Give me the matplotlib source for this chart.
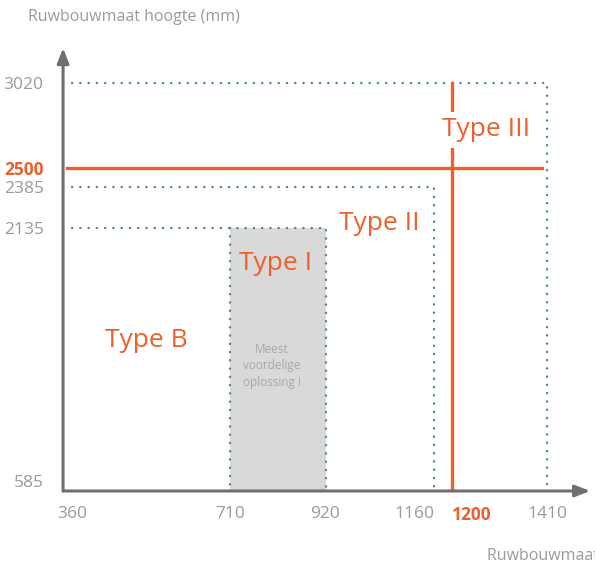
import matplotlib.pyplot as plt

# tick values on both axes
x_ticks = [360, 710, 920, 1160, 1200, 1410]
y_ticks = [585, 2135, 2385, 2500, 3020]

# type boundaries (width, height) drawn as dotted boxes from the origin
box_w = [920, 1160, 1410]
box_h = [2135, 2385, 3020]

# the recommended range (Type I)
bar_left, bar_right = 710, 920
bar_top = 2135

# the orange limit lines
limit_w = 1200
limit_h = 2500

labels = ["Type B", "Type I", "Type II", "Type III"]
label_x = [524, 809, 1039, 1274]
label_y = [1442, 1913, 2158, 2733]

orange = '#ee5f2b'
grey = '#9a9a9a'
blue = '#4b84a6'
axis_col = '#6f6f6f'

plt.rcParams['font.family'] = ['Open Sans', 'DejaVu Sans']

fig = plt.figure(figsize=(5.95, 5.68), dpi=100)
ax = fig.add_axes([0.106, 0.1356, 0.886, 0.780])
x0, y0 = 340, 524
ax.set_xlim(x0, 1505)
ax.set_ylim(y0, 3234)

for s in ax.spines.values():
    s.set_visible(False)

# axis arrows
ax.annotate('', xy=(1, 0), xytext=(0, 0), xycoords='axes fraction',
            arrowprops=dict(arrowstyle='-|>,head_length=0.9,head_width=0.35',
                            color=axis_col, lw=2.2, shrinkA=0, shrinkB=0), zorder=6)
ax.annotate('', xy=(0, 1), xytext=(0, 0), xycoords='axes fraction',
            arrowprops=dict(arrowstyle='-|>,head_length=0.9,head_width=0.35',
                            color=axis_col, lw=2.2, shrinkA=0, shrinkB=0), zorder=6)

# grey bar
ax.bar(bar_left, bar_top - y0, width=bar_right - bar_left, bottom=y0,
       align='edge', color='#d9d9d9', zorder=1)

# dotted boxes
dots = dict(color=blue, lw=1.7, linestyle=(0, (0.1, 3.4)), dash_capstyle='round', zorder=2)
for w, h in zip(box_w, box_h):
    ax.plot([x_ticks[0], w, w], [h, h, y0], **dots)
ax.plot([bar_left, bar_left], [bar_top, y0], **dots)

# orange limits
ax.plot([x0 + 8, 1398], [limit_h, limit_h], color=orange, lw=2.4, zorder=3)
ax.plot([limit_w, limit_w], [y0, box_h[-1]], color=orange, lw=2.4, zorder=3)

# type labels
for t, x, y in zip(labels, label_x, label_y):
    bb = None
    if t == "Type III":
        bb = dict(facecolor='white', edgecolor='none', pad=4)
    ax.text(x, y, t, color=orange, fontsize=19, ha='center', va='center',
            bbox=bb, zorder=5)

ax.text(802, 1289, "Meest\nvoordelige\noplossing !", color='#a8a8a8', fontsize=8.5,
        ha='center', va='center', linespacing=1.35, zorder=5)

# ticks
ax.set_xticks(x_ticks)
ax.set_xticklabels([str(v) for v in x_ticks])
ax.set_yticks(y_ticks)
ax.set_yticklabels([str(v) for v in y_ticks])
ax.tick_params(length=0, labelsize=12.5, labelcolor=grey)
ax.tick_params(axis='x', pad=11)
ax.tick_params(axis='y', pad=14)
for lab in ax.get_xticklabels():
    if lab.get_text() == '1160':
        lab.set_horizontalalignment('right')
    if lab.get_text() == str(limit_w):
        lab.set_horizontalalignment('left')
        lab.set_color(orange)
        lab.set_fontweight('bold')
for lab in ax.get_yticklabels():
    if lab.get_text() == str(limit_h):
        lab.set_color(orange)
        lab.set_fontweight('bold')

fig.text(28 / 595, 1 - 17 / 568, "Ruwbouwmaat hoogte (mm)", color=grey, fontsize=11.5,
         ha='left', va='center')
fig.text(487 / 595, 1 - 555 / 568, "Ruwbouwmaat breedte (mm)", color=grey, fontsize=11.5,
         ha='left', va='center')

fig.savefig('out.png', dpi=100)
